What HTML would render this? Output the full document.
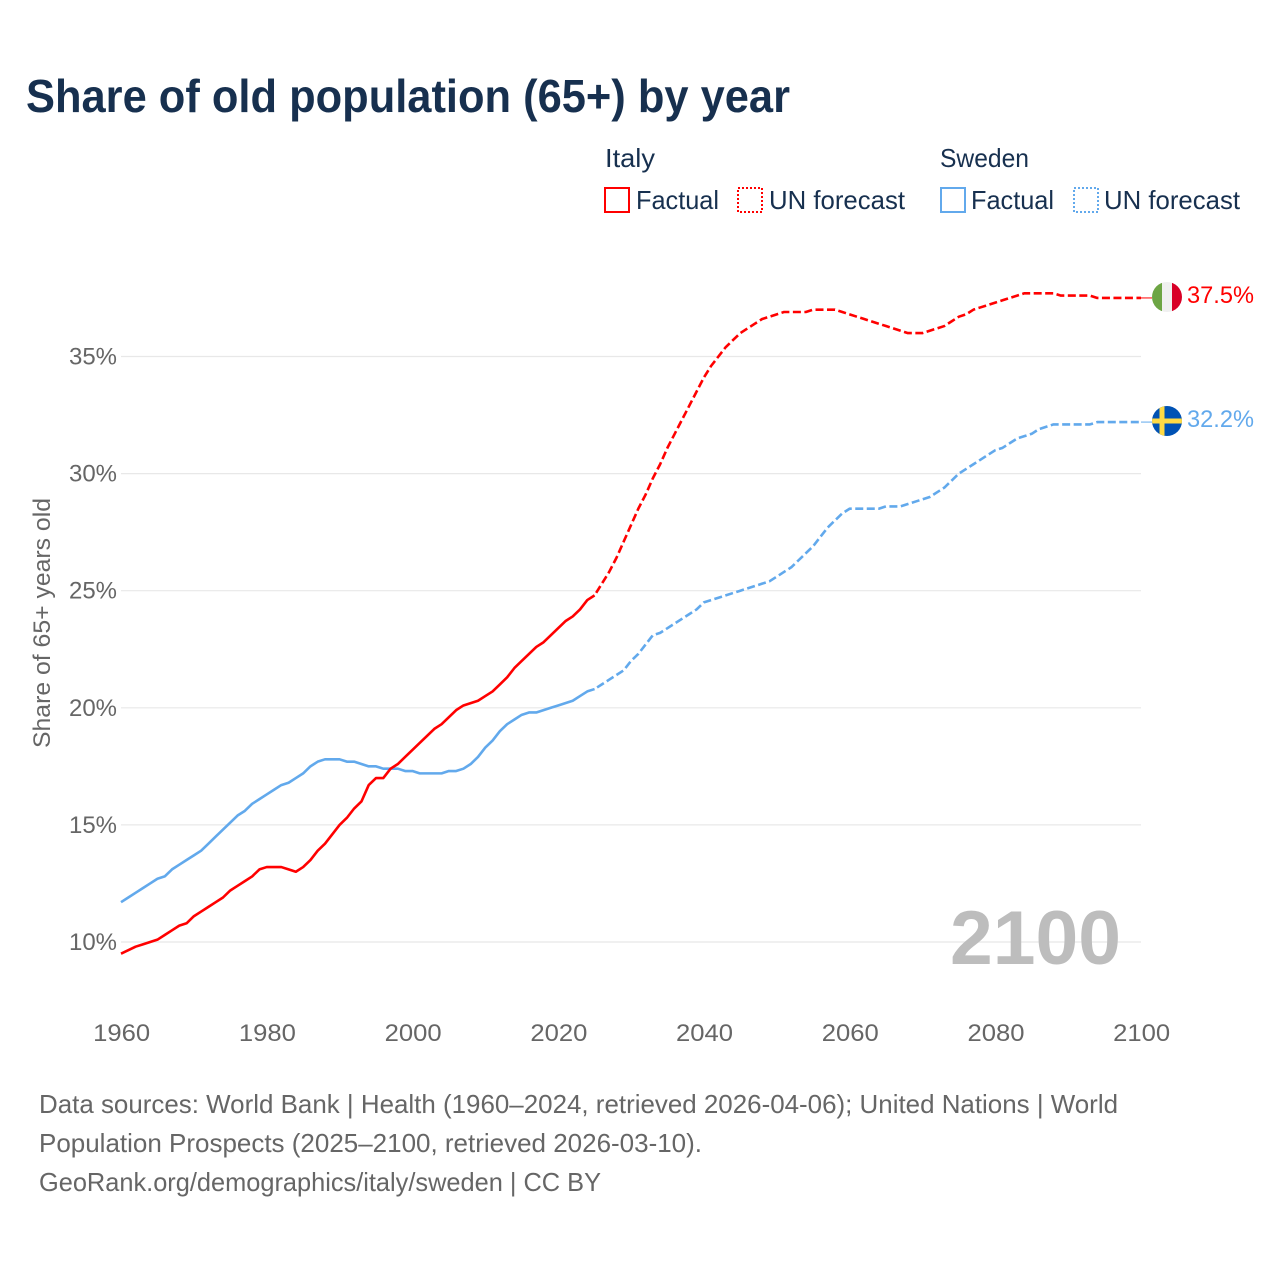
<!DOCTYPE html>
<html lang="en">
<head>
<meta charset="utf-8">
<title>Share of old population (65+) by year</title>
<style>
html,body{margin:0;padding:0;background:#fff;width:1280px;height:1280px;overflow:hidden}
svg{display:block}
text{font-family:"Liberation Sans",sans-serif}
</style>
</head>
<body>
<svg id="chart" xmlns="http://www.w3.org/2000/svg" width="1280" height="1280" viewBox="0 0 1280 1280">
  <rect width="1280" height="1280" fill="#fff"/>
  <text x="26" y="112" font-size="46" font-weight="700" fill="#17304f" textLength="764" lengthAdjust="spacingAndGlyphs">Share of old population (65+) by year</text>

  <g font-size="26" fill="#17304f">
    <text x="605" y="167" textLength="50" lengthAdjust="spacingAndGlyphs">Italy</text>
    <text x="940" y="167" textLength="89" lengthAdjust="spacingAndGlyphs">Sweden</text>
    <rect x="605" y="188" width="24" height="24" fill="none" stroke="#ff0000" stroke-width="2"/>
    <text x="636" y="209" textLength="83" lengthAdjust="spacingAndGlyphs">Factual</text>
    <rect x="738" y="188" width="24" height="24" fill="none" stroke="#ff0000" stroke-width="2" stroke-dasharray="2 2"/>
    <text x="769" y="209" textLength="136" lengthAdjust="spacingAndGlyphs">UN forecast</text>
    <rect x="941" y="188" width="24" height="24" fill="none" stroke="#62a9ec" stroke-width="2"/>
    <text x="971" y="209" textLength="83" lengthAdjust="spacingAndGlyphs">Factual</text>
    <rect x="1074" y="188" width="24" height="24" fill="none" stroke="#62a9ec" stroke-width="2" stroke-dasharray="2 2"/>
    <text x="1104" y="209" textLength="136" lengthAdjust="spacingAndGlyphs">UN forecast</text>
  </g>

  <g id="grid"></g>
  <g id="yLabels"></g>
  <g id="xLabels"></g>

  <text transform="translate(50,748) rotate(-90)" x="0" y="0" font-size="24" fill="#666" textLength="250" lengthAdjust="spacingAndGlyphs">Share of 65+ years old</text>

  <text x="950" y="964" font-size="76" font-weight="700" fill="#bdbdbd" textLength="171" lengthAdjust="spacingAndGlyphs">2100</text>

  <g id="series"></g>

  <defs>
    <clipPath id="flagClipItaly"><circle cx="1167" cy="297" r="15"/></clipPath>
    <clipPath id="flagClipSweden"><circle cx="1167" cy="421" r="15"/></clipPath>
  </defs>
  <g clip-path="url(#flagClipItaly)">
    <rect x="1152" y="282" width="10" height="30" fill="#6da544"/>
    <rect x="1162" y="282" width="10" height="30" fill="#f0f0f0"/>
    <rect x="1172" y="282" width="10" height="30" fill="#d80027"/>
  </g>
  <g clip-path="url(#flagClipSweden)">
    <rect x="1152" y="406" width="30" height="30" fill="#0052b4"/>
    <rect x="1159.5" y="406" width="5" height="30" fill="#ffda44"/>
    <rect x="1152" y="418.5" width="30" height="5" fill="#ffda44"/>
  </g>
  <text x="1187" y="303" font-size="24" fill="#ff0000" textLength="67" lengthAdjust="spacingAndGlyphs">37.5%</text>
  <text x="1187" y="427" font-size="24" fill="#62a9ec" textLength="67" lengthAdjust="spacingAndGlyphs">32.2%</text>

  <g font-size="26" fill="#666">
    <text x="39" y="1113" textLength="1079" lengthAdjust="spacingAndGlyphs">Data sources: World Bank | Health (1960–2024, retrieved 2026-04-06); United Nations | World</text>
    <text x="39" y="1152" textLength="663" lengthAdjust="spacingAndGlyphs">Population Prospects (2025–2100, retrieved 2026-03-10).</text>
    <text x="39" y="1191" textLength="562" lengthAdjust="spacingAndGlyphs">GeoRank.org/demographics/italy/sweden | CC BY</text>
  </g>
</svg>
<script>
const firstYear = 1960;
const firstForecastYear = 2025;
const yTicks = [10, 15, 20, 25, 30, 35];
const xTicks = [1960, 1980, 2000, 2020, 2040, 2060, 2080, 2100];
const italyValues = [
  9.5,9.65,9.8,9.9,10.0,10.1,10.3,10.5,10.7,10.8,
  11.1,11.3,11.5,11.7,11.9,12.2,12.4,12.6,12.8,13.1,
  13.2,13.2,13.2,13.1,13.0,13.2,13.5,13.9,14.2,14.6,
  15.0,15.3,15.7,16.0,16.7,17.0,17.0,17.4,17.6,17.9,
  18.2,18.5,18.8,19.1,19.3,19.6,19.9,20.1,20.2,20.3,
  20.5,20.7,21.0,21.3,21.7,22.0,22.3,22.6,22.8,23.1,
  23.4,23.7,23.9,24.2,24.6,24.8,25.3,25.8,26.4,27.1,
  27.8,28.5,29.1,29.8,30.4,31.1,31.7,32.3,32.9,33.5,
  34.1,34.6,35.0,35.4,35.7,36.0,36.2,36.4,36.6,36.7,
  36.8,36.9,36.9,36.9,36.9,37.0,37.0,37.0,37.0,36.9,
  36.8,36.7,36.6,36.5,36.4,36.3,36.2,36.1,36.0,36.0,
  36.0,36.1,36.2,36.3,36.5,36.7,36.8,37.0,37.1,37.2,
  37.3,37.4,37.5,37.6,37.7,37.7,37.7,37.7,37.7,37.6,
  37.6,37.6,37.6,37.6,37.5,37.5,37.5,37.5,37.5,37.5,
  37.5
];
const swedenValues = [
  11.7,11.9,12.1,12.3,12.5,12.7,12.8,13.1,13.3,13.5,
  13.7,13.9,14.2,14.5,14.8,15.1,15.4,15.6,15.9,16.1,
  16.3,16.5,16.7,16.8,17.0,17.2,17.5,17.7,17.8,17.8,
  17.8,17.7,17.7,17.6,17.5,17.5,17.4,17.4,17.4,17.3,
  17.3,17.2,17.2,17.2,17.2,17.3,17.3,17.4,17.6,17.9,
  18.3,18.6,19.0,19.3,19.5,19.7,19.8,19.8,19.9,20.0,
  20.1,20.2,20.3,20.5,20.7,20.8,21.0,21.2,21.4,21.6,
  22.0,22.3,22.7,23.1,23.2,23.4,23.6,23.8,24.0,24.2,
  24.5,24.6,24.7,24.8,24.9,25.0,25.1,25.2,25.3,25.4,
  25.6,25.8,26.0,26.3,26.6,26.9,27.3,27.7,28.0,28.3,
  28.5,28.5,28.5,28.5,28.5,28.6,28.6,28.6,28.7,28.8,
  28.9,29.0,29.2,29.4,29.7,30.0,30.2,30.4,30.6,30.8,
  31.0,31.1,31.3,31.5,31.6,31.7,31.9,32.0,32.1,32.1,
  32.1,32.1,32.1,32.1,32.2,32.2,32.2,32.2,32.2,32.2,
  32.2
];

const NS = 'http://www.w3.org/2000/svg';
function xScale(year) { return 121 + (year - 1960) * (1141 - 121) / 140; }
function yScale(pct) { return 942 - (pct - 10) * 23.42; }

function make(tag, attrs, parent) {
  const el = document.createElementNS(NS, tag);
  Object.keys(attrs).forEach(function (k) { el.setAttribute(k, attrs[k]); });
  parent.appendChild(el);
  return el;
}

const gridGroup = document.getElementById('grid');
const yLabelGroup = document.getElementById('yLabels');
yTicks.forEach(function (t) {
  const line = make('line', { x1: 121, x2: 1141, y1: yScale(t), y2: yScale(t), stroke: '#e8e8e8', 'stroke-width': 1.2 }, gridGroup);
  
  
  const label = make('text', { x: 117, y: yScale(t) + 8, 'text-anchor': 'end', 'font-size': 24, fill: '#666', textLength: 48, lengthAdjust: 'spacingAndGlyphs' }, yLabelGroup);
  
  
  label.textContent = t + '%';
});

const xLabelGroup = document.getElementById('xLabels');
xTicks.forEach(function (t) {
  const label = make('text', { x: xScale(t) + 0.7, y: 1041, 'text-anchor': 'middle', 'font-size': 24, fill: '#666', textLength: 57, lengthAdjust: 'spacingAndGlyphs' }, xLabelGroup);
  
  
  label.textContent = t;
});

function pathFor(values, fromYear, toYear) {
  let d = '';
  for (let y = fromYear; y <= toYear; y++) {
    d += (d ? 'L' : 'M') + xScale(y).toFixed(2) + ' ' + yScale(values[y - firstYear]).toFixed(2);
  }
  return d;
}

const seriesGroup = document.getElementById('series');
function drawSeries(values, color, prefix) {
  const lastYear = firstYear + values.length - 1;
  const solid = make('path', { d: pathFor(values, firstYear, firstForecastYear), fill: 'none', stroke: color, 'stroke-width': 2.6, 'stroke-linejoin': 'round' }, seriesGroup);
  
  
  const dashed = make('path', { d: pathFor(values, firstForecastYear, lastYear), fill: 'none', stroke: color, 'stroke-width': 2.6, 'stroke-linejoin': 'round', 'stroke-dasharray': '8 3.5', 'stroke-dashoffset': -3 }, seriesGroup);
  
  
  const endY = yScale(values[values.length - 1]);
  const connector = make('line', { x1: xScale(lastYear), x2: 1152, y1: endY, y2: endY, stroke: color, 'stroke-width': 1 }, seriesGroup);
  
  
}
drawSeries(swedenValues, '#62a9ec', 'sweden');
drawSeries(italyValues, '#ff0000', 'italy');
</script>
</body>
</html>
